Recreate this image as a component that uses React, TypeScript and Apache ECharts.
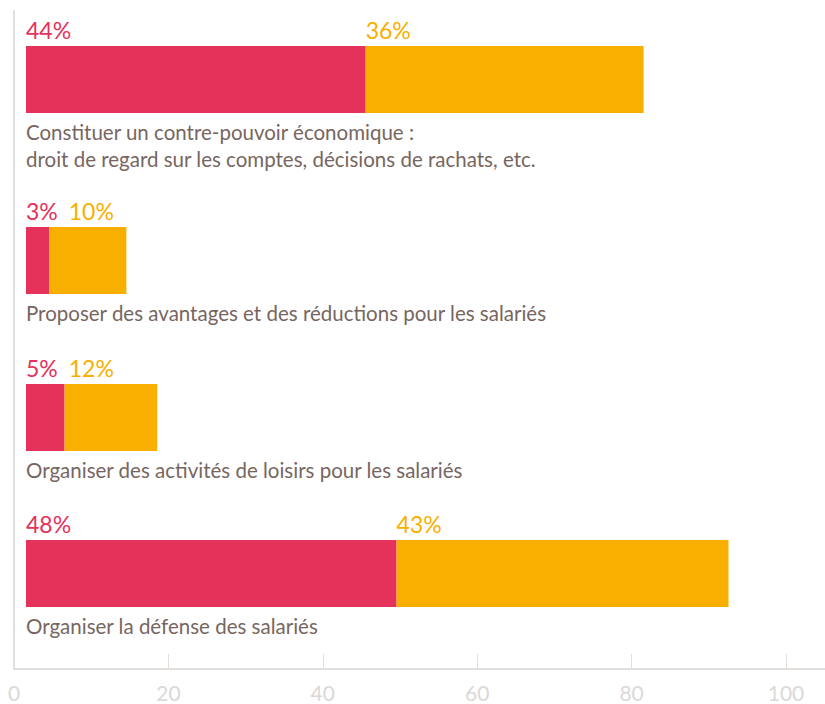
import React, { useEffect, useRef } from 'react';
import * as echarts from 'echarts';

// ---- data ----
const categories = [
  'Constituer un contre-pouvoir économique :\ndroit de regard sur les comptes, décisions de rachats, etc.',
  'Proposer des avantages et des réductions pour les salariés',
  'Organiser des activités de loisirs pour les salariés',
  'Organiser la défense des salariés',
];
const pinkValues = [44, 3, 5, 48];
const yellowValues = [36, 10, 12, 43];
const axisTickValues = [0, 20, 40, 60, 80, 100];

// ---- layout / style ----
const W = 825;
const H = 704;
const PINK = '#e4325a';
const YELLOW = '#f9af00';
const TEXT = '#77665f';
const AXIS = '#e2dedc';
const AXIS_LABEL = '#dcd8d6';
const FONT = 'Lato, "Noto Sans", sans-serif';
const VAL_FONT_SIZE = 23;
const CAT_FONT_SIZE = 20.5;
const barTops = [46, 227, 384, 540];
const BAR_H = 67;
const LEFT = 14;
const PX_PER_UNIT = 7.72;
const BAR_OFFSET = 12;
const AXIS_TOP = 11;
const AXIS_Y = 669;
const LABEL_GAP = 11;
const axisMax = (W - LEFT) / PX_PER_UNIT;
const barMin = -BAR_OFFSET / PX_PER_UNIT;
const barMax = axisMax + barMin;

function textWidth(text: string, size: number): number {
  const c = document.createElement('canvas');
  const ctx = c.getContext('2d');
  if (!ctx) return text.length * size * 0.6;
  ctx.font = `${size}px ${FONT}`;
  return ctx.measureText(text).width;
}

export default function App() {
  const ref = useRef<HTMLDivElement>(null);
  useEffect(() => {
    if (!ref.current) return;
    const chart = echarts.init(ref.current, undefined, { renderer: 'svg' });

    const grids: any[] = [];
    const xAxes: any[] = [];
    const yAxes: any[] = [];
    const series: any[] = [];
    const graphics: any[] = [];

    categories.forEach((cat, i) => {
      grids.push({ left: LEFT, right: 0, top: barTops[i], height: BAR_H });
      xAxes.push({ type: 'value', gridIndex: i, min: barMin, max: barMax, show: false });
      yAxes.push({ type: 'category', gridIndex: i, data: [cat], show: false });
      const pinkLabelW = textWidth(pinkValues[i] + '%', VAL_FONT_SIZE);
      const yellowDx = Math.max(0, pinkLabelW + LABEL_GAP - pinkValues[i] * PX_PER_UNIT);
      const mk = (name: string, val: number, color: string, dx: number) => ({
        type: 'bar',
        name,
        xAxisIndex: i,
        yAxisIndex: i,
        stack: 'stack' + i,
        barWidth: BAR_H,
        data: [val],
        itemStyle: { color },
        label: {
          show: true,
          position: [dx, -5],
          align: 'left',
          verticalAlign: 'bottom',
          formatter: '{c}%',
          color,
          fontSize: VAL_FONT_SIZE,
          fontFamily: FONT,
        },
      });
      series.push(mk('A', pinkValues[i], PINK, 0));
      series.push(mk('B', yellowValues[i], YELLOW, yellowDx));
      graphics.push({
        type: 'text',
        left: LEFT + BAR_OFFSET,
        top: barTops[i] + BAR_H + 5,
        style: {
          text: cat,
          fill: TEXT,
          fontSize: CAT_FONT_SIZE,
          lineHeight: 27,
          fontFamily: FONT,
        },
      });
    });

    const ai = categories.length;
    grids.push({ left: LEFT, right: 0, top: AXIS_TOP, bottom: H - AXIS_Y });
    xAxes.push({
      type: 'value',
      gridIndex: ai,
      min: 0,
      max: axisMax,
      axisLine: { show: true, lineStyle: { color: AXIS, width: 2 } },
      axisTick: { show: true, inside: true, length: 15, customValues: axisTickValues, lineStyle: { color: AXIS, width: 1 } },
      axisLabel: {
        show: true,
        customValues: axisTickValues,
        color: AXIS_LABEL,
        fontSize: 21,
        lineHeight: 20,
        fontFamily: FONT,
        margin: 13,
      },
      splitLine: { show: false },
    });
    yAxes.push({
      type: 'value',
      gridIndex: ai,
      min: 0,
      max: 1,
      axisLine: { show: true, lineStyle: { color: AXIS, width: 2 } },
      axisTick: { show: false },
      axisLabel: { show: false },
      splitLine: { show: false },
    });

    chart.setOption({
      animation: false,
      backgroundColor: '#ffffff',
      grid: grids,
      xAxis: xAxes,
      yAxis: yAxes,
      series,
      graphic: graphics,
    });
    return () => chart.dispose();
  }, []);
  return <div ref={ref} style={{ position: 'fixed', left: 0, top: 0, width: W, height: H }} />;
}
